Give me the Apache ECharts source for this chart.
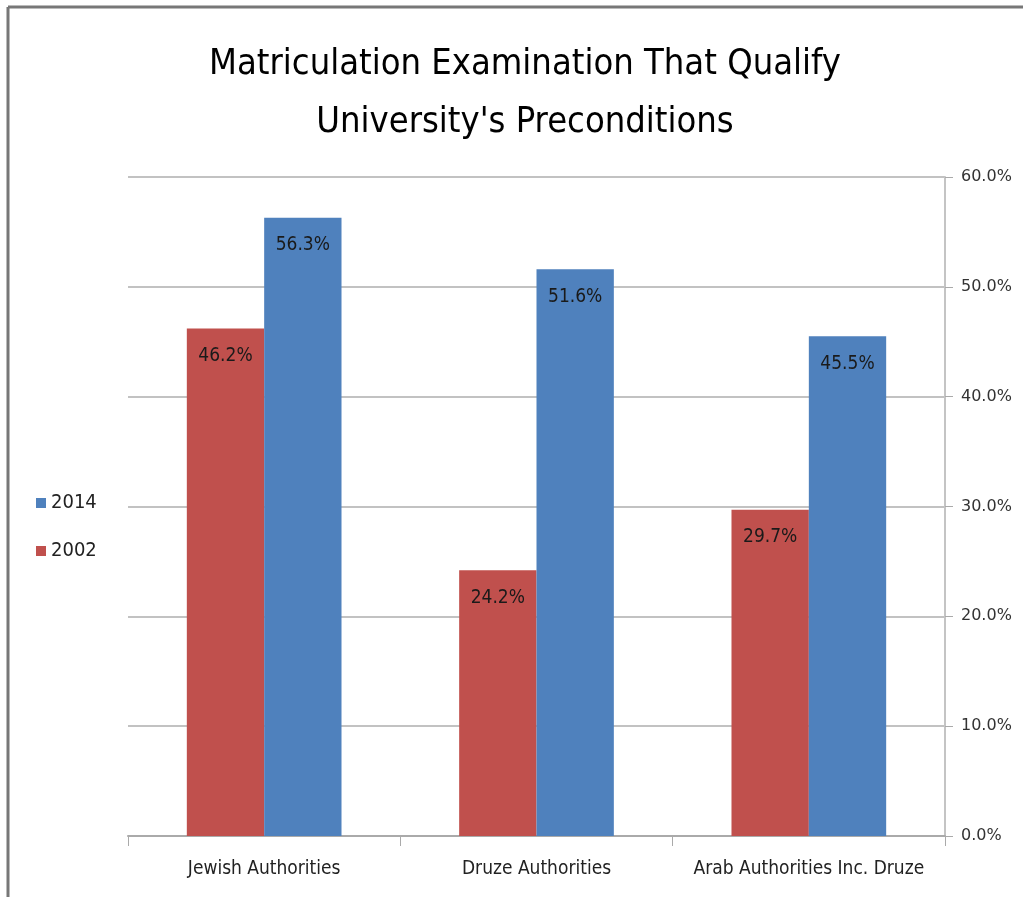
<!DOCTYPE html>
<html>
<head>
<meta charset="utf-8">
<script src="https://cdn.jsdelivr.net/npm/echarts@6/dist/echarts.min.js"></script>
<style>html,body{margin:0;padding:0;background:#fff}#c{width:1023px;height:897px}</style>
</head>
<body>
<div id="c"></div>
<script>
const titleText = "Matriculation Examination That Qualify\nUniversity's Preconditions";
const categories = ["Jewish Authorities", "Druze Authorities", "Arab Authorities Inc. Druze"];
const values2002 = [46.2, 24.2, 29.7];
const values2014 = [56.3, 51.6, 45.5];
const yTicks = { min: 0, max: 60, interval: 10 };

const FONT = "'Liberation Sans Narrow','DejaVu Sans Condensed','Open Sans',sans-serif";
const chart = echarts.init(document.getElementById('c'), null, { renderer: 'canvas' });
chart.setOption({
  backgroundColor: '#fff',
  animation: false,
  title: {
    text: titleText,
    left: 520, top: 31, textAlign: 'center',
    textStyle: { fontFamily: FONT, fontSize: 36, fontWeight: 'normal', color: '#000', lineHeight: 58 }
  },
  legend: {
    data: ['2014', '2002'],
    orient: 'vertical',
    left: 31, top: 488,
    itemWidth: 10, itemHeight: 10, itemGap: 28,
    icon: 'rect',
    textStyle: { fontFamily: FONT, fontSize: 20, color: '#222' }
  },
  grid: { left: 128, right: 78, top: 177, bottom: 61, containLabel: false },
  xAxis: {
    type: 'category',
    data: categories,
    axisLine: { lineStyle: { color: '#aaa', width: 2 } },
    axisTick: { show: true, length: 10, lineStyle: { color: '#aaa', width: 1 } },
    axisLabel: { interval: 0, fontFamily: FONT, fontSize: 19, color: '#222', margin: 24 }
  },
  yAxis: {
    type: 'value',
    position: 'right',
    min: yTicks.min, max: yTicks.max, interval: yTicks.interval,
    axisLine: { show: true, lineStyle: { color: '#c4c4c4', width: 2 } },
    axisTick: { show: true, inside: false, length: 8, lineStyle: { color: '#aaa' } },
    splitLine: { lineStyle: { color: '#c2c2c2', width: 2 } },
    axisLabel: { fontFamily: "'DejaVu Sans','Open Sans',sans-serif", fontSize: 16, color: '#333', margin: 16,
      formatter: v => v.toFixed(1) + '%' }
  },
  series: [
    {
      name: '2002', type: 'bar', data: values2002,
      barWidth: '28.4%', barGap: '0%',
      itemStyle: { color: '#C0504D' },
      label: { show: true, position: 'insideTop', distance: 18, formatter: p => p.value.toFixed(1) + '%',
        fontFamily: FONT, fontSize: 19, color: '#1a1a1a' }
    },
    {
      name: '2014', type: 'bar', data: values2014,
      barWidth: '28.4%', barGap: '0%',
      itemStyle: { color: '#4F81BD' },
      label: { show: true, position: 'insideTop', distance: 18, formatter: p => p.value.toFixed(1) + '%',
        fontFamily: FONT, fontSize: 19, color: '#1a1a1a' }
    }
  ],
  graphic: [
    { type: 'line', shape: { x1: 8, y1: 7, x2: 1023, y2: 7 }, style: { stroke: '#777', lineWidth: 3 } },
    { type: 'line', shape: { x1: 8, y1: 7, x2: 8, y2: 897 }, style: { stroke: '#777', lineWidth: 3 } }
  ]
});
</script>
</body>
</html>
